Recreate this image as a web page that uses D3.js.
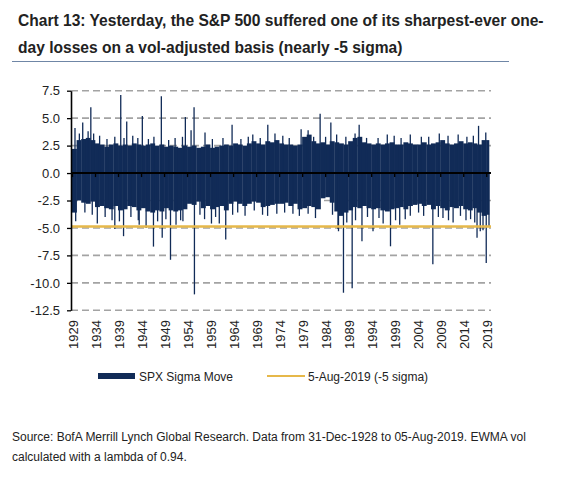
<!DOCTYPE html>
<html><head><meta charset="utf-8">
<script src="https://cdn.jsdelivr.net/npm/d3@7"></script>
<style>
body{margin:0;background:#fff;}
svg{display:block;font-family:"Liberation Sans",Arial,sans-serif;}
</style>
</head><body>
<svg id="c" width="574" height="481"></svg>
<script>
// ---------------- DATA ----------------
const years = [1929,1930,1931,1932,1933,1934,1935,1936,1937,1938,1939,1940,1941,1942,1943,1944,1945,1946,1947,1948,1949,
1950,1951,1952,1953,1954,1955,1956,1957,1958,1959,1960,1961,1962,1963,1964,1965,1966,1967,1968,1969,
1970,1971,1972,1973,1974,1975,1976,1977,1978,1979,1980,1981,1982,1983,1984,1985,1986,1987,1988,1989,
1990,1991,1992,1993,1994,1995,1996,1997,1998,1999,2000,2001,2002,2003,2004,2005,2006,2007,2008,2009,
2010,2011,2012,2013,2014,2015,2016,2017,2018,2019];
// typical upper edge of the dense daily mass per year (sigma)
const coreHigh = [2.2,3.0,3.1,3.2,3.0,2.7,2.6,2.4,2.6,2.7,2.5,2.6,2.5,2.7,2.6,2.5,2.6,2.7,2.5,2.6,2.4,
2.5,2.4,2.3,2.5,2.4,2.5,2.3,2.4,2.6,2.3,2.4,2.5,2.6,2.5,2.7,2.6,2.5,2.7,2.9,2.7,
2.6,2.9,2.8,3.0,2.7,2.6,2.6,2.5,2.6,3.3,3.5,2.9,2.7,2.8,2.6,2.9,2.8,2.7,2.6,2.9,
3.2,3.3,2.8,2.7,2.6,2.7,2.6,2.7,2.8,2.6,2.6,2.8,2.7,2.6,2.6,2.8,2.6,2.7,2.8,3.0,
2.7,2.6,2.7,2.9,2.7,2.8,2.7,2.6,3.0,3.0];
// typical lower edge of the dense daily mass per year (sigma)
const coreLow = [-3.6,-2.5,-2.7,-2.8,-2.6,-3.1,-3.0,-3.2,-3.3,-3.0,-3.4,-3.3,-3.0,-3.1,-3.4,-3.2,-3.5,-3.6,-3.4,-3.5,-3.2,
-3.4,-3.5,-3.4,-3.3,-2.8,-2.9,-2.6,-3.2,-3.0,-3.3,-3.1,-3.0,-3.4,-2.8,-2.6,-2.8,-3.0,-2.8,-2.6,-2.7,
-3.1,-3.0,-2.9,-2.8,-2.8,-2.7,-3.0,-2.8,-3.3,-3.2,-3.0,-3.1,-3.3,-2.3,-2.2,-2.7,-3.5,-3.9,-3.6,-3.4,
-3.1,-3.2,-3.0,-3.2,-3.3,-3.2,-3.4,-3.5,-3.3,-3.2,-3.1,-3.3,-3.0,-2.9,-2.8,-3.0,-2.9,-3.3,-3.0,-3.2,
-3.4,-3.1,-3.2,-3.0,-3.3,-3.4,-3.2,-3.6,-3.9,-3.8];
// individual daily moves that stand out of the mass: [date as decimal year, sigma]
const spikesUp = [[1929.65,4.1],[1930.6,3.6],[1931.33,4.6],[1932.5,3.8],[1933.09,6.0],[1933.7,3.6],[1935.0,3.4],
[1936.6,3.1],[1938.3,3.3],[1939.59,7.1],[1940.3,3.2],[1940.89,4.7],[1942.2,3.4],[1943.3,3.2],[1944.28,5.2],
[1945.6,3.1],[1946.8,3.3],[1948.41,7.0],[1950.0,3.0],[1951.4,3.2],[1953.0,3.3],[1953.63,5.1],[1954.87,3.9],
[1955.52,6.0],[1957.9,3.7],[1959.5,3.1],[1961.8,3.2],[1963.78,4.4],[1965.7,3.1],[1967.3,3.3],[1968.28,3.5],
[1969.9,3.2],[1971.54,4.4],[1973.1,3.6],[1974.8,3.4],[1976.2,3.2],[1978.78,4.0],[1980.3,3.9],[1981.5,3.3],
[1982.91,5.4],[1984.1,3.3],[1985.24,4.6],[1986.5,3.5],[1988.5,3.3],[1990.5,3.6],[1991.39,4.4],[1993.0,3.2],
[1995.5,3.2],[1997.5,3.5],[1999.0,3.4],[2000.5,3.2],[2002.5,3.5],[2004.9,3.3],[2006.5,3.3],[2008.8,3.6],
[2010.7,3.4],[2012.9,3.5],[2014.8,3.3],[2016.2,3.4],[2017.33,4.3],[2018.9,3.7]];
const spikesDown = [[1929.8,-4.4],[1931.8,-3.6],[1933.4,-3.8],[1934.5,-4.6],[1936.2,-4.0],[1937.7,-4.3],[1938.3,-5.1],
[1939.3,-4.4],[1940.2,-5.75],[1941.8,-4.0],[1943.4,-4.3],[1943.6,-4.7],[1945.1,-5.0],[1946.7,-6.7],[1947.6,-4.4],
[1948.6,-5.9],[1949.4,-4.2],[1950.4,-7.9],[1951.6,-4.7],[1952.6,-4.3],[1953.1,-4.4],[1955.6,-11.05],[1956.8,-3.8],
[1957.8,-4.2],[1959.3,-4.6],[1960.2,-4.0],[1961.0,-4.6],[1962.4,-6.05],[1963.9,-3.8],[1965.0,-3.6],[1966.6,-3.9],
[1968.6,-3.4],[1970.4,-3.8],[1971.5,-3.9],[1973.5,-3.7],[1975.2,-3.6],[1977.0,-3.7],[1978.4,-3.9],[1980.3,-3.7],
[1981.9,-4.1],[1985.6,-3.8],[1986.8,-5.1],[1986.9,-5.3],[1987.98,-10.9],[1988.7,-4.5],[1989.87,-10.5],[1990.6,-4.3],
[1992.0,-6.2],[1993.2,-4.0],[1994.4,-5.3],[1995.7,-4.1],[1996.6,-4.6],[1998.2,-6.67],[1999.3,-4.3],[2000.2,-4.7],
[2001.4,-4.2],[2002.5,-3.9],[2004.3,-3.6],[2005.4,-3.9],[2007.4,-8.3],[2008.6,-4.0],[2009.6,-4.1],[2010.8,-4.3],
[2011.8,-4.5],[2013.4,-3.9],[2014.6,-4.3],[2015.6,-4.2],[2016.5,-4.5],[2017.0,-5.9],[2017.7,-5.3],[2018.3,-5.2],
[2019.0,-8.2],[2019.6,-4.87]];
const firstDate = 1929.0, lastDate = 2019.6;   // 31-Dec-1928 .. 05-Aug-2019
const markerValue = -4.87;                      // 5-Aug-2019 move
const yTicks = [7.5,5.0,2.5,0,-2.5,-5.0,-7.5,-10.0,-12.5];
const xTickYears = [1929,1934,1939,1944,1949,1954,1959,1964,1969,1974,1979,1984,1989,1994,1999,2004,2009,2014,2019];

const titleLines = ["Chart 13: Yesterday, the S&P 500 suffered one of its sharpest-ever one-",
                    "day losses on a vol-adjusted basis (nearly -5 sigma)"];
const seriesNames = ["SPX Sigma Move","5-Aug-2019 (-5 sigma)"];
const sourceLines = ["Source: BofA Merrill Lynch Global Research. Data from 31-Dec-1928 to 05-Aug-2019. EWMA vol",
                     "calculated with a lambda of 0.94."];

// ---------------- DRAW ----------------
const NAVY = "#112b57", GOLD = "#e6b84a", TXT = "#222";
const svg = d3.select("#c");
const x = d3.scaleLinear().domain([firstDate, lastDate]).range([72, 489]);
const y = d3.scaleLinear().domain([-12.5, 7.5]).range([310.3, 90.7]);
const plotL = 71, plotR = 491;

// title
const tg = svg.append("g");
const titleTexts = titleLines.map((t,i)=> tg.append("text").attr("x",18).attr("y",26+i*27)
    .attr("font-family",'"Liberation Sans Narrow","Arial Narrow","Liberation Sans",sans-serif')
    .attr("font-weight","bold").attr("font-size",19.5).attr("fill",TXT).text(t));
const w1 = titleTexts[0].node().getComputedTextLength();
const targetW = 526;
if (w1 > 0) {
  const fs = 19.5 * targetW / w1;
  titleTexts.forEach(t=>t.attr("font-size", Math.min(fs, 21)));
}
svg.append("line").attr("x1",12).attr("x2",509).attr("y1",61.5).attr("y2",61.5)
  .attr("stroke","#6f86a6").attr("stroke-width",1);

// gridlines
svg.append("g").selectAll("line").data(yTicks.filter(d=>d!==0)).join("line")
  .attr("x1",plotL).attr("x2",plotR).attr("y1",d=>y(d)).attr("y2",d=>y(d))
  .attr("stroke","#a3a3a3").attr("stroke-width",1.6).attr("stroke-dasharray","7,4");

// dense mass per year
const bars = years.map((yr,i)=>({x0:yr, x1:Math.min(yr+1,lastDate), hi:coreHigh[i], lo:coreLow[i]}));
svg.append("g").selectAll("rect").data(bars).join("rect")
  .attr("x",d=>x(d.x0)).attr("width",d=>x(d.x1)-x(d.x0)+0.3)
  .attr("y",d=>y(d.hi)).attr("height",d=>y(d.lo)-y(d.hi))
  .attr("fill",NAVY);

// individual spikes
svg.append("g").selectAll("line").data(spikesUp.concat(spikesDown)).join("line")
  .attr("x1",d=>x(d[0])).attr("x2",d=>x(d[0])).attr("y1",y(0)).attr("y2",d=>y(d[1]))
  .attr("stroke",NAVY).attr("stroke-width",1.3);

// 5-Aug-2019 marker line
svg.append("line").attr("x1",plotL).attr("x2",plotR).attr("y1",y(markerValue)).attr("y2",y(markerValue))
  .attr("stroke",GOLD).attr("stroke-width",2.6);

// zero line with ticks
const xAxis = d3.axisBottom(x).tickValues(xTickYears).tickSize(4).tickSizeOuter(0).tickFormat("");
const gx = svg.append("g").attr("transform",`translate(0,${y(0)})`).call(xAxis);
gx.select(".domain").attr("d",`M${plotL},0H${plotR}`).attr("stroke","#000").attr("stroke-width",2);
gx.selectAll(".tick line").attr("stroke","#000").attr("stroke-width",1.3);

// x labels (rotated)
svg.append("g").selectAll("text").data(xTickYears).join("text")
  .attr("transform",d=>`translate(${x(d)+1},320) rotate(-90)`)
  .attr("text-anchor","end").attr("dy","0.35em")
  .attr("font-size",13).attr("fill",TXT).text(d=>d);

// left axis
const yAxis = d3.axisLeft(y).tickValues(yTicks).tickSize(4).tickSizeOuter(0).tickPadding(7)
  .tickFormat(d=>d.toFixed(1));
const gy = svg.append("g").attr("transform",`translate(${plotL},0)`).call(yAxis);
gy.select(".domain").attr("stroke","#000").attr("stroke-width",1.6);
gy.selectAll(".tick line").attr("stroke","#000").attr("stroke-width",1.3);
gy.selectAll(".tick text").attr("font-size",13).attr("fill",TXT)
  .attr("font-family",'"Liberation Sans",Arial,sans-serif');

// legend
const lg = svg.append("g");
lg.append("rect").attr("x",98).attr("y",373).attr("width",37).attr("height",6).attr("fill",NAVY);
lg.append("text").attr("x",139).attr("y",380.5).attr("font-size",12).attr("fill",TXT).text(seriesNames[0]);
lg.append("line").attr("x1",267).attr("x2",305).attr("y1",376).attr("y2",376).attr("stroke",GOLD).attr("stroke-width",2);
lg.append("text").attr("x",308).attr("y",380.5).attr("font-size",12).attr("fill",TXT).text(seriesNames[1]);

// source
sourceLines.forEach((t,i)=>{
  svg.append("text").attr("x",12).attr("y",441+i*20).attr("font-size",12).attr("fill",TXT).text(t);
});
</script>
</body></html>
